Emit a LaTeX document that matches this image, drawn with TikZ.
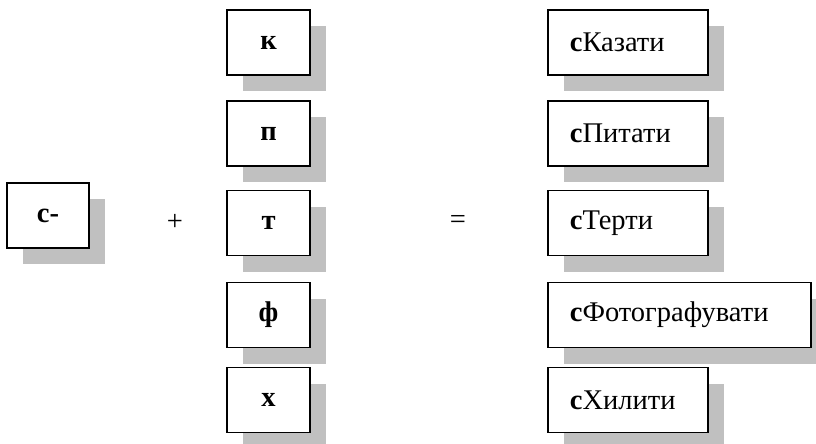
\documentclass[tikz,border=0pt]{standalone}
\usepackage{fontspec}
\setmainfont{Liberation Serif}
\usetikzlibrary{shadows}
\definecolor{shgray}{HTML}{C0C0C0}
\begin{document}
\begin{tikzpicture}[x=1pt,y=-1pt,
  sbox/.style={draw, line width=1.7pt, fill=white, inner xsep=0pt, inner ysep=0pt,
    minimum height=65pt,
    drop shadow={shadow xshift=16pt, shadow yshift=-16pt, fill=shgray, opacity=1, draw=none}},
  midbox/.style={sbox, minimum width=83pt, font=\fontsize{28.5}{32}\selectfont\bfseries},
  resbox/.style={sbox, anchor=west, inner xsep=22pt, align=left, font=\fontsize{28.5}{32}\selectfont},
  sign/.style={font=\fontsize{28.5}{32}\selectfont}]
\useasboundingbox (0,0) rectangle (816,444);
\node[midbox, minimum width=82pt] (pre) at (48,215.5) {с-};
\node[sign] (plus) at (175,222) {+};
\node[midbox] (k) at (268.5,42.5) {к};
\node[midbox] (p) at (268.5,133.5) {п};
\node[midbox] (t) at (268.5,223) {т};
\node[midbox] (f) at (268.5,315) {ф};
\node[midbox] (h) at (268.5,400) {х};
\node[sign] (eq) at (458,222) {=};
\node[resbox, text width=116pt] (rk) at (547,42.5) {\textbf{с}Казати};
\node[resbox, text width=116pt] (rp) at (547,133.5) {\textbf{с}Питати};
\node[resbox, text width=116pt] (rt) at (547,223) {\textbf{с}Терти};
\node[resbox, text width=219pt] (rf) at (547,315) {\textbf{с}Фотографувати};
\node[resbox, text width=116pt] (rh) at (547,400) {\textbf{с}Хилити};
\end{tikzpicture}
\end{document}
